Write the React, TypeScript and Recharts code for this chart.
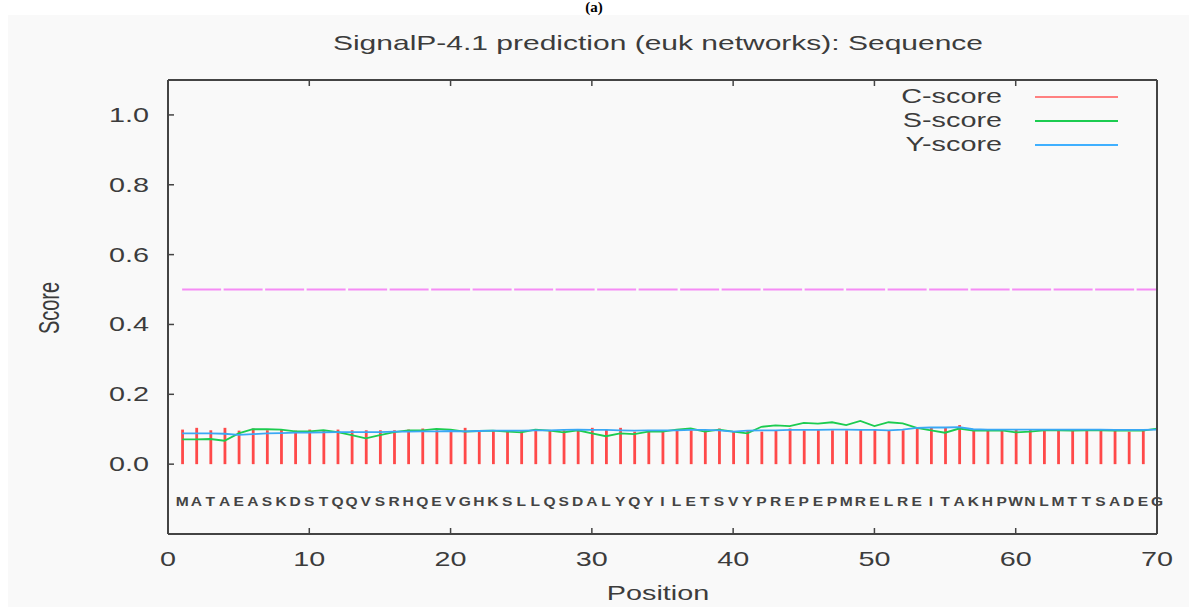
import React from 'react';
import {
  ComposedChart, Bar, Line, Scatter, XAxis, YAxis, ReferenceLine,
} from 'recharts';

// amino acid sequence, one letter per position
const sequence = [...'MATAEASKDSTQQVSRHQEVGHKSLLQSDALYQYILETSVYPREPEPMRELREITAKHPWNLMTTSADEG'];

// C-score (positions 1..69)
const cScore = [
  0.099, 0.104, 0.097, 0.104, 0.096, 0.102, 0.097, 0.100, 0.096, 0.099,
  0.097, 0.099, 0.097, 0.097, 0.097, 0.097, 0.099, 0.102, 0.097, 0.093,
  0.104, 0.097, 0.095, 0.097, 0.095, 0.097, 0.097, 0.097, 0.100, 0.104,
  0.099, 0.104, 0.093, 0.097, 0.093, 0.097, 0.097, 0.097, 0.102, 0.093,
  0.097, 0.093, 0.095, 0.102, 0.097, 0.099, 0.097, 0.097, 0.100, 0.100,
  0.097, 0.097, 0.104, 0.104, 0.104, 0.112, 0.097, 0.099, 0.099, 0.099,
  0.099, 0.096, 0.099, 0.097, 0.097, 0.099, 0.099, 0.093, 0.097,
];

// S-score (positions 1..70)
const sScore = [
  0.071, 0.071, 0.072, 0.067, 0.088, 0.100, 0.100, 0.099, 0.094, 0.094,
  0.097, 0.092, 0.083, 0.074, 0.083, 0.092, 0.097, 0.097, 0.101, 0.099,
  0.093, 0.095, 0.096, 0.093, 0.091, 0.099, 0.096, 0.091, 0.097, 0.088,
  0.080, 0.088, 0.086, 0.093, 0.093, 0.099, 0.102, 0.093, 0.099, 0.093,
  0.088, 0.107, 0.111, 0.109, 0.118, 0.116, 0.120, 0.112, 0.124, 0.109,
  0.120, 0.117, 0.104, 0.097, 0.090, 0.102, 0.096, 0.096, 0.097, 0.091,
  0.093, 0.097, 0.097, 0.096, 0.097, 0.097, 0.096, 0.097, 0.096, 0.102,
];

// Y-score (positions 1..70)
const yScore = [
  0.088, 0.088, 0.088, 0.087, 0.084, 0.086, 0.088, 0.089, 0.090, 0.090,
  0.091, 0.092, 0.092, 0.092, 0.092, 0.093, 0.093, 0.094, 0.094, 0.095,
  0.094, 0.095, 0.096, 0.096, 0.096, 0.097, 0.097, 0.098, 0.099, 0.098,
  0.098, 0.097, 0.096, 0.097, 0.097, 0.097, 0.098, 0.098, 0.097, 0.093,
  0.096, 0.097, 0.097, 0.098, 0.098, 0.098, 0.099, 0.099, 0.098, 0.098,
  0.097, 0.099, 0.104, 0.105, 0.105, 0.106, 0.100, 0.099, 0.099, 0.099,
  0.099, 0.099, 0.099, 0.099, 0.099, 0.099, 0.098, 0.098, 0.098, 0.099,
];

const xTicks = [0, 10, 20, 30, 40, 50, 60, 70];
const yTicks = [0, 0.2, 0.4, 0.6, 0.8, 1.0];
const cutoff = 0.5;
const letterRow = -0.1;

const legendItems = [
  { name: 'C-score', color: '#ff8080' },
  { name: 'S-score', color: '#1ccc50' },
  { name: 'Y-score', color: '#40b0ff' },
];

const data = sequence.map((_, i) => ({
  pos: i + 1, c: cScore[i], s: sScore[i], y: yScore[i],
}));
const letters = sequence.map((aa, i) => ({ pos: i + 1, row: letterRow, aa }));

const FONT = '"Liberation Sans", Arial, sans-serif';
const INK = '#3c3c3c';
const FRAME = '#444';
const SX = 1.44; // glyphs in the picture are stretched sideways

function Wide({ x, y, sx = SX, size = 20, anchor = 'middle', weight = 'normal', fill = INK, rotate = 0, children }: any) {
  return (
    <text
      transform={`translate(${x},${y}) scale(${sx},1)${rotate ? ` rotate(${rotate})` : ''}`}
      textAnchor={anchor} fontSize={size} fontWeight={weight} fontFamily={FONT} fill={fill}
    >{children}</text>
  );
}

const BottomTick = ({ x, y, payload }: any) => (
  <g>
    <line x1={x} x2={x} y1={y} y2={y - 6} stroke={FRAME} strokeWidth={1.5} />
    <Wide x={x} y={y + 32}>{payload.value}</Wide>
  </g>
);
const TopTick = ({ x, y }: any) => (
  <line x1={x} x2={x} y1={y} y2={y + 6} stroke={FRAME} strokeWidth={1.5} />
);
const LeftTick = ({ x, y, payload }: any) => (
  <g>
    <line x1={x} x2={x + 6} y1={y} y2={y} stroke={FRAME} strokeWidth={1.5} />
    <Wide x={x - 19} y={y + 7} anchor="end">{payload.value.toFixed(1)}</Wide>
  </g>
);
const RightTick = ({ x, y }: any) => (
  <line x1={x} x2={x - 6} y1={y} y2={y} stroke={FRAME} strokeWidth={1.5} />
);

const Impulse = ({ x, y, width, height }: any) => {
  if (height == null || !isFinite(height)) return null;
  const cx = x + width / 2;
  return <line x1={cx} x2={cx} y1={y} y2={y + height} stroke="#ff3535" strokeWidth={2.8} strokeOpacity={0.9} />;
};

const Letter = ({ cx, cy, payload }: any) => (
  <Wide x={cx} y={cy + 7} sx={1.3} size={12} weight="bold" fill="#444">{payload.aa}</Wide>
);

export default function App() {
  return (
    <div style={{ position: 'absolute', left: 0, top: 0, width: 1189, height: 607, background: '#fff', overflow: 'hidden' }}>
      <div style={{ position: 'absolute', left: 8, top: 15, width: 1181, height: 592, background: '#f9f9f9' }}>
        <ComposedChart width={1181} height={592} data={data}
          margin={{ top: 64, right: 31, bottom: 43, left: 100 }}>
          <XAxis dataKey="pos" type="number" domain={[0, 70]} ticks={xTicks} interval={0}
            tickSize={0} tickMargin={0} tickLine={false} tick={<BottomTick />} height={30}
            axisLine={{ stroke: FRAME, strokeWidth: 2 }} />
          <XAxis xAxisId="top" orientation="top" dataKey="pos" type="number" domain={[0, 70]} ticks={xTicks} interval={0}
            tickSize={0} tickMargin={0} tickLine={false} tick={<TopTick />} height={1}
            axisLine={{ stroke: FRAME, strokeWidth: 2 }} />
          <YAxis type="number" domain={[-0.2, 1.1]} ticks={yTicks} interval={0}
            tickSize={0} tickMargin={0} tickLine={false} tick={<LeftTick />} width={60}
            axisLine={{ stroke: FRAME, strokeWidth: 2 }} />
          <YAxis yAxisId="right" orientation="right" type="number" domain={[-0.2, 1.1]} ticks={yTicks} interval={0}
            tickSize={0} tickMargin={0} tickLine={false} tick={<RightTick />} width={1}
            axisLine={{ stroke: FRAME, strokeWidth: 2 }} />
          <ReferenceLine segment={[{ x: 1, y: cutoff }, { x: 70, y: cutoff }]}
            stroke="#f58cf5" strokeWidth={2} strokeDasharray="39 2.5" />
          <Bar dataKey="c" barSize={3} shape={<Impulse />} isAnimationActive={false} />
          <Line dataKey="s" type="linear" stroke="#1ccc50" strokeWidth={1.8} dot={false} isAnimationActive={false} />
          <Line dataKey="y" type="linear" stroke="#3aa8f5" strokeWidth={1.8} dot={false} isAnimationActive={false} />
          <Scatter data={letters} dataKey="row" shape={<Letter />} isAnimationActive={false} />
        </ComposedChart>
      </div>
      <svg width={1189} height={607} style={{ position: 'absolute', left: 0, top: 0, pointerEvents: 'none' }}>
        <text x={594} y={12} textAnchor="middle" fontSize={15} fontWeight="bold"
          fontFamily='"Liberation Serif", serif' fill="#000">(a)</text>
        <Wide x={658} y={50} sx={1.5}>SignalP-4.1 prediction (euk networks): Sequence</Wide>
        <Wide x={59} y={308} rotate={-90}>Score</Wide>
        <Wide x={658} y={600}>Position</Wide>
        {legendItems.map((it, i) => (
          <g key={it.name}>
            <Wide x={1002} y={103 + i * 24} anchor="end">{it.name}</Wide>
            <line x1={1035} x2={1118} y1={97 + i * 24} y2={97 + i * 24} stroke={it.color} strokeWidth={2} />
          </g>
        ))}
      </svg>
    </div>
  );
}
